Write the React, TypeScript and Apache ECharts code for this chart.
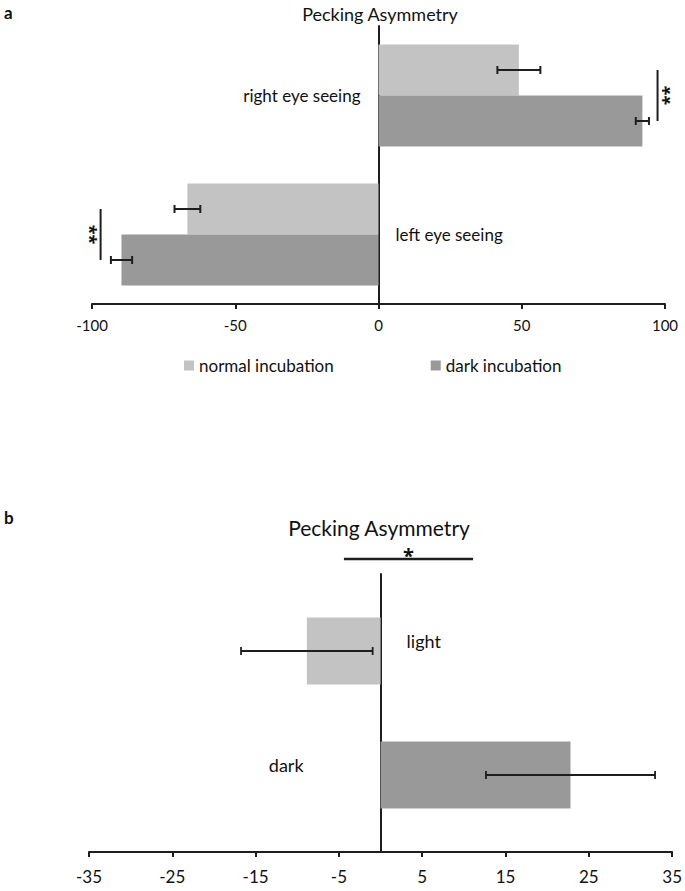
import React, { useEffect, useRef } from 'react';
import * as echarts from 'echarts';

// ---------- Panel a data ----------
const categoriesA = ['right eye seeing', 'left eye seeing'];
const seriesNamesA = ['normal incubation', 'dark incubation'];
const normalValues = [49.0, -66.7];
const normalErrors = [7.5, 4.5];
const darkValues = [92.1, -89.7];
const darkErrors = [2.3, 3.7];
const ticksA = [-100, -50, 0, 50, 100];
const significanceA = ['**', '**'];
const significanceAX = [97.4, -97.0];

// ---------- Panel b data ----------
const categoriesB = ['light', 'dark'];
const valuesB = [-8.85, 22.8];
const errorsB = [7.9, 10.15];
const ticksB = [-35, -25, -15, -5, 5, 15, 25, 35];
const significanceB = '*';
const significanceBRange = [-4.4, 11.1];

const TITLE = 'Pecking Asymmetry';
const COLORS = ['#c3c3c3', '#999999'];
const INK = '#1e1e1e';
const FONT = 'Lato';
const STAR_FONT = 'Open Sans';

const BAR_A = 51;
const BAR_B = 67;
const GAP_B = 57;
const OFFSETS_A = [-BAR_A / 2, BAR_A / 2];
const OFFSETS_B = [-(BAR_B + GAP_B) / 2, (BAR_B + GAP_B) / 2];

function makeErrorRender(offsets: number[], cap: number, lw: number) {
  return (params: any, api: any) => {
    const v = api.value(0);
    const c = api.value(1);
    const e = api.value(2);
    const s = api.value(3);
    const p = api.coord([v, c]);
    const y = p[1] + offsets[s];
    const x1 = api.coord([v - e, c])[0];
    const x2 = api.coord([v + e, c])[0];
    const style = { stroke: INK, lineWidth: lw };
    return {
      type: 'group',
      children: [
        { type: 'line', shape: { x1, y1: y, x2, y2: y }, style },
        { type: 'line', shape: { x1, y1: y - cap, x2: x1, y2: y + cap }, style },
        { type: 'line', shape: { x1: x2, y1: y - cap, x2, y2: y + cap }, style },
      ],
    };
  };
}

function valueAxis(gridIndex: number, ticks: number[], fontSize: number, margin: number) {
  return {
    gridIndex,
    type: 'value',
    min: ticks[0],
    max: ticks[ticks.length - 1],
    interval: ticks[1] - ticks[0],
    axisLine: { show: true, onZero: false, lineStyle: { color: INK, width: 2 } },
    axisTick: { show: true, length: 5, lineStyle: { color: INK, width: 2 } },
    splitLine: { show: false },
    axisLabel: { fontFamily: FONT, fontSize, color: '#111', margin },
  };
}

function categoryAxis(gridIndex: number, data: string[]) {
  return {
    gridIndex,
    type: 'category',
    data,
    inverse: true,
    axisLine: { show: true, onZero: true, lineStyle: { color: INK, width: 2 } },
    axisTick: { show: false },
    axisLabel: { show: false },
    splitLine: { show: false },
  };
}

export default function App() {
  const ref = useRef<HTMLDivElement>(null);

  useEffect(() => {
    if (!ref.current) return;
    const chart = echarts.init(ref.current, undefined, { renderer: 'svg' });

    const errA: any[] = [];
    categoriesA.forEach((_, i) => {
      errA.push([normalValues[i], i, normalErrors[i], 0]);
      errA.push([darkValues[i], i, darkErrors[i], 1]);
    });
    const errB = categoriesB.map((_, s) => [valuesB[s], 0, errorsB[s], s]);

    const option: any = {
      animation: false,
      backgroundColor: '#ffffff',
      textStyle: { fontFamily: FONT },
      grid: [
        { left: 92, right: 20, top: 26, height: 278 },
        { left: 89, right: 12, top: 574, height: 278 },
      ],
      xAxis: [valueAxis(0, ticksA, 15, 13), valueAxis(1, ticksB, 17, 16)],
      yAxis: [categoryAxis(0, categoriesA), categoryAxis(1, [''])],
      legend: {
        data: seriesNamesA,
        left: 184,
        top: 357,
        padding: 0,
        itemWidth: 10,
        itemHeight: 10,
        itemGap: 97,
        icon: 'rect',
        selectedMode: false,
        textStyle: { fontFamily: FONT, fontSize: 17, color: '#111', padding: [0, 0, 0, 0] },
      },
      series: [
        {
          type: 'bar',
          name: seriesNamesA[0],
          xAxisIndex: 0,
          yAxisIndex: 0,
          data: normalValues,
          barWidth: BAR_A,
          barGap: '0%',
          itemStyle: { color: COLORS[0] },
        },
        {
          type: 'bar',
          name: seriesNamesA[1],
          xAxisIndex: 0,
          yAxisIndex: 0,
          data: darkValues,
          barWidth: BAR_A,
          barGap: '0%',
          itemStyle: { color: COLORS[1] },
        },
        {
          type: 'custom',
          name: 'error a',
          xAxisIndex: 0,
          yAxisIndex: 0,
          renderItem: makeErrorRender(OFFSETS_A, 4, 2),
          data: errA,
          encode: { x: 0, y: 1 },
          z: 10,
          silent: true,
        },
        ...categoriesB.map((name, s) => ({
          type: 'bar',
          name,
          xAxisIndex: 1,
          yAxisIndex: 1,
          data: [valuesB[s]],
          barWidth: BAR_B,
          barGap: `${(GAP_B / BAR_B) * 100}%`,
          itemStyle: { color: COLORS[s] },
        })),
        {
          type: 'custom',
          name: 'error b',
          xAxisIndex: 1,
          yAxisIndex: 1,
          renderItem: makeErrorRender(OFFSETS_B, 4, 1.8),
          data: errB,
          encode: { x: 0, y: 1 },
          z: 10,
          silent: true,
        },
      ],
    };
    chart.setOption(option);

    // ---- annotations positioned from the axes ----
    const g0 = { gridIndex: 0 };
    const g1 = { gridIndex: 1 };
    const graphic: any[] = [];
    const txt = (x: number, y: number, text: string, o: any = {}) => ({
      type: 'text',
      x,
      y,
      rotation: o.rotation || 0,
      style: {
        text,
        fill: '#111',
        font: o.font || `15px ${FONT}`,
        align: o.align || 'left',
        verticalAlign: 'middle',
      },
    });
    const ln = (x1: number, y1: number, x2: number, y2: number, lw = 2) => ({
      type: 'line',
      shape: { x1, y1, x2, y2 },
      style: { stroke: INK, lineWidth: lw },
    });

    graphic.push(txt(4, 12, 'a', { font: `bold 17px ${FONT}` }));
    graphic.push(txt(380, 14, TITLE, { font: `18px ${FONT}`, align: 'center' }));
    graphic.push(txt(4, 517, 'b', { font: `bold 17px ${FONT}` }));
    graphic.push(txt(379, 527, TITLE, { font: `21px ${FONT}`, align: 'center' }));

    categoriesA.forEach((name, i) => {
      const p = chart.convertToPixel(g0, [0, i]) as number[];
      const onLeft = darkValues[i] > 0;
      graphic.push(
        txt(onLeft ? p[0] - 18 : p[0] + 17, p[1], name, {
          font: `17px ${FONT}`,
          align: onLeft ? 'right' : 'left',
        })
      );
      const sx = (chart.convertToPixel(g0, [significanceAX[i], i]) as number[])[0];
      graphic.push(ln(sx, p[1] + OFFSETS_A[0], sx, p[1] + OFFSETS_A[1], 2));
      const dir = significanceAX[i] > 0 ? 1 : -1;
      graphic.push({
        type: 'text',
        x: sx + dir * 2,
        y: p[1],
        rotation: dir > 0 ? Math.PI / 2 : -Math.PI / 2,
        style: {
          text: significanceA[i],
          fill: '#111',
          font: `bold 18px '${STAR_FONT}'`,
          align: 'center',
          verticalAlign: 'top',
        },
      });
    });

    const pb = chart.convertToPixel(g1, [0, 0]) as number[];
    categoriesB.forEach((name, s) => {
      const y = pb[1] + OFFSETS_B[s] - 10;
      const onLeft = valuesB[s] > 0;
      graphic.push(
        txt(onLeft ? pb[0] - 77 : pb[0] + 26, y, name, {
          font: `18px ${FONT}`,
          align: onLeft ? 'right' : 'left',
        })
      );
    });
    const bx1 = (chart.convertToPixel(g1, [significanceBRange[0], 0]) as number[])[0];
    const bx2 = (chart.convertToPixel(g1, [significanceBRange[1], 0]) as number[])[0];
    const by = 574 - 15;
    graphic.push(ln(bx1, by, bx2, by, 2.5));
    graphic.push({
      type: 'text',
      x: (bx1 + bx2) / 2,
      y: by - 14,
      style: {
        text: significanceB,
        fill: '#111',
        font: `bold 20px '${STAR_FONT}'`,
        align: 'center',
        verticalAlign: 'top',
      },
    });

    chart.setOption({ graphic });

    return () => chart.dispose();
  }, []);

  return (
    <div
      ref={ref}
      style={{ position: 'absolute', left: 0, top: 0, width: 685, height: 891, background: '#fff' }}
    />
  );
}
